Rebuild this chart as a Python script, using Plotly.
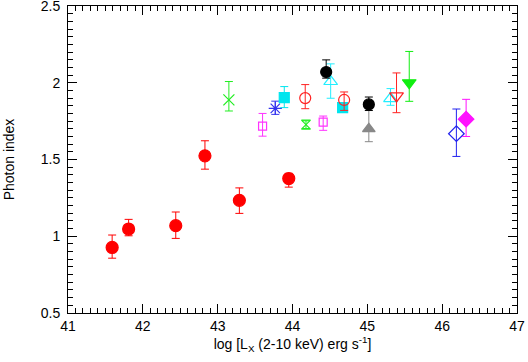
import plotly.graph_objects as go

# ---- data (log Lx, photon index, +err, -err) ----
red_fill_x = [41.59, 41.81, 42.44, 42.83, 43.29, 43.95]
red_fill_y = [0.927, 1.047, 1.069, 1.524, 1.234, 1.376]
red_fill_up = [0.081, 0.063, 0.089, 0.098, 0.081, 0.034]
red_fill_dn = [0.070, 0.044, 0.083, 0.087, 0.085, 0.056]

green_x_x = [43.15]
green_x_y = [1.888]
green_x_up = [0.12]
green_x_dn = [0.072]

mag_sq_x = [43.60, 44.41]
mag_sq_y = [1.718, 1.744]
mag_sq_up = [0.082, 0.039]
mag_sq_dn = [0.066, 0.054]

blue_ast_x = [43.77]
blue_ast_y = [1.833]
blue_ast_up = [0.047]
blue_ast_dn = [0.039]

cyan_sq_x = [43.89, 44.67]
cyan_sq_y = [1.903, 1.838]
cyan_sq_up = [0.072, 0.02]
cyan_sq_dn = [0.065, 0.02]

red_oc_x = [44.17, 44.69]
red_oc_y = [1.900, 1.888]
red_oc_up = [0.088, 0.052]
red_oc_dn = [0.069, 0.068]

green_hg_x = [44.18]
green_hg_y = [1.727]
green_hg_up = [0.025]
green_hg_dn = [0.025]

cyan_tri_x = [44.51, 45.31]
cyan_tri_y = [2.008, 1.897]
cyan_tri_up = [0.115, 0.065]
cyan_tri_dn = [0.109, 0.044]

gray_tri_x = [45.02]
gray_tri_y = [1.700]
gray_tri_up = [0.13]
gray_tri_dn = [0.084]

black_x = [44.45, 45.02]
black_y = [2.070, 1.859]
black_up = [0.079, 0.048]
black_dn = [0.04, 0.04]

red_td_x = [45.39]
red_td_y = [1.914]
red_td_up = [0.15]
red_td_dn = [0.109]

green_td_x = [45.56]
green_td_y = [2.000]
green_td_up = [0.204]
green_td_dn = [0.121]

blue_dia_x = [46.19]
blue_dia_y = [1.668]
blue_dia_up = [0.161]
blue_dia_dn = [0.148]

mag_dia_x = [46.32]
mag_dia_y = [1.763]
mag_dia_up = [0.129]
mag_dia_dn = [0.113]

x_ticks = [41, 42, 43, 44, 45, 46, 47]
y_ticks = [0.5, 1, 1.5, 2, 2.5]

fig = go.Figure()


def add(x, y, up, dn, color, symbol, size, lw=1.2):
    fig.add_trace(go.Scatter(
        x=x, y=y, mode="markers",
        marker=dict(symbol=symbol, size=size, color=color,
                    line=dict(color=color, width=lw)),
        error_y=dict(type="data", symmetric=False, array=up, arrayminus=dn,
                     color=color, thickness=1, width=4),
        showlegend=False, cliponaxis=False,
    ))


add(red_fill_x, red_fill_y, red_fill_up, red_fill_dn, "#ff0000", "circle", 12)
add(green_x_x, green_x_y, green_x_up, green_x_dn, "#22ee22", "x-thin-open", 11)
add(mag_sq_x, mag_sq_y, mag_sq_up, mag_sq_dn, "#ff33ff", "square-open", 8)
add(blue_ast_x, blue_ast_y, blue_ast_up, blue_ast_dn, "#3333ee", "asterisk-open", 11)
add(cyan_sq_x, cyan_sq_y, cyan_sq_up, cyan_sq_dn, "#00e5ee", "square", 10)
add(red_oc_x, red_oc_y, red_oc_up, red_oc_dn, "#ff2222", "circle-open", 11)
add(green_hg_x, green_hg_y, green_hg_up, green_hg_dn, "#22ee22", "hourglass-open", 9)
add(cyan_tri_x, cyan_tri_y, cyan_tri_up, cyan_tri_dn, "#22eeff", "triangle-up-open", 12)
add(gray_tri_x, gray_tri_y, gray_tri_up, gray_tri_dn, "#888888", "triangle-up", 11)
add(black_x, black_y, black_up, black_dn, "#000000", "circle", 11)
add(red_td_x, red_td_y, red_td_up, red_td_dn, "#ff2222", "triangle-down-open", 12)
add(green_td_x, green_td_y, green_td_up, green_td_dn, "#11ee11", "triangle-down", 12)
add(blue_dia_x, blue_dia_y, blue_dia_up, blue_dia_dn, "#2222ee", "diamond-open", 12)
add(mag_dia_x, mag_dia_y, mag_dia_up, mag_dia_dn, "#ff11ff", "diamond", 12)

FONT = "Liberation Sans, Arial"
axis_common = dict(
    showgrid=False, zeroline=False, showline=True, linecolor="black",
    linewidth=1, mirror="ticks", ticks="inside", tickcolor="black",
    ticklen=9, tickwidth=1, tickfont=dict(family=FONT, size=14, color="black"),
    ticklabeloverflow="allow",
)

fig.update_xaxes(
    range=[41, 47], tickvals=x_ticks, ticktext=[str(v) for v in x_ticks],
    minor=dict(dtick=0.1, tick0=41, ticks="inside", ticklen=5, tickcolor="black"),
    title=dict(text="log [L<sub>X</sub> (2-10 keV) erg s<sup>-1</sup>]",
               font=dict(family=FONT, size=14, color="black"),
               standoff=6),
    automargin=False,
    **axis_common,
)
fig.update_yaxes(
    range=[0.5, 2.5], tickvals=y_ticks, ticktext=["0.5", "1", "1.5", "2", "2.5"],
    minor=dict(dtick=0.05, tick0=0.5, ticks="inside", ticklen=5, tickcolor="black"),
    title=dict(text="Photon index",
               font=dict(family=FONT, size=14, color="black"),
               standoff=22),
    ticklabelstandoff=4,
    automargin=False,
    **axis_common,
)

fig.update_layout(
    width=528, height=362,
    margin=dict(l=68, r=11, t=6, b=49),
    plot_bgcolor="white", paper_bgcolor="white",
)

fig.write_html("out.html", config={"displayModeBar": False},
               post_script="document.body.style.margin='0';")
